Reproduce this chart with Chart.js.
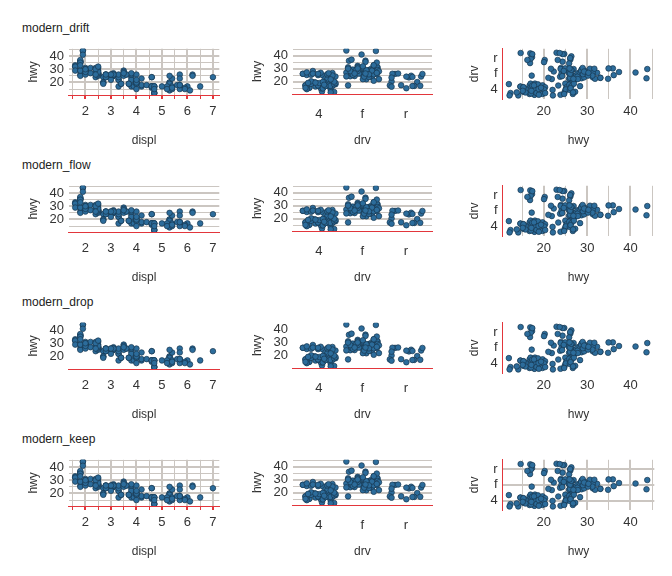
<!DOCTYPE html>
<html>
<head>
<meta charset="UTF-8" />
<script src="https://cdn.jsdelivr.net/npm/chart.js"></script>
<style>
  body { margin: 0; background: #fff; font-family: "Liberation Sans", Arial, sans-serif; }
  .title { position: absolute; font-size: 12px; color: #222; }
  canvas { position: absolute; }
</style>
</head>
<body>
<script>
// mpg subset: displ, drv, hwy
const displ = [1.8,1.8,2.0,2.0,2.8,2.8,3.1,1.8,1.8,2.0,2.0,2.8,2.8,3.1,3.1,2.8,3.1,4.2,
  5.3,5.3,5.3,5.7,6.0,5.7,5.7,6.2,6.2,7.0,5.3,5.3,5.7,6.5,2.4,2.4,3.1,3.5,3.6,
  2.4,3.0,3.3,3.3,3.3,3.8,3.8,3.8,4.0,3.7,3.9,4.7,4.7,5.2,3.9,4.7,5.9,4.7,5.2,5.9,
  4.6,5.4,4.0,4.6,5.0,4.2,4.6,5.4,3.8,4.0,4.6,5.4,4.6,
  1.6,1.6,1.6,1.6,1.8,1.8,1.8,2.0,2.4,2.5,3.3,2.0,2.7,
  3.0,3.7,4.0,4.7,5.7,6.1,4.0,4.2,4.4,4.6,5.4,4.0,4.6,2.5,3.5,3.0,3.5,3.3,4.0,5.6,3.1,3.8,5.3,
  2.5,2.5,2.5,2.5,2.5,2.5,2.2,2.5,2.7,3.4,4.0,4.7,2.2,2.4,3.0,3.5,1.8,1.8,1.8,4.7,5.7,2.7,3.4,4.0,
  2.0,2.8,1.9,2.0,2.5,1.9,1.9,2.0,2.5,1.8,2.0,2.8,3.6,2.4,2.5,1.8,2.0,3.5,2.7,2.4];
const drv = ['f','f','f','f','f','f','f','4','4','4','4','4','4','4','4','4','4','4',
  'r','r','r','r','r','r','r','r','r','r','4','4','4','4','f','f','f','f','f',
  'f','f','f','f','f','f','f','f','f','4','4','4','4','4','4','4','4','4','4','4',
  'r','r','4','4','4','4','4','4','r','r','r','r','r',
  'f','f','f','f','f','f','f','f','f','f','f','f','f',
  '4','4','4','4','4','4','4','4','4','r','r','4','4','f','f','f','f','4','4','4','f','f','f',
  '4','4','4','4','4','4','4','4','4','4','4','4','f','f','f','f','f','f','f','4','4','4','4','4',
  'f','f','f','f','f','f','f','f','f','f','f','f','f','f','f','f','f','f','4','f'];
const hwy = [29,29,31,30,26,26,27,26,25,28,27,25,25,25,25,24,25,23,
  20,15,20,17,17,26,23,26,25,24,19,14,15,17,27,30,26,29,26,
  24,24,22,22,24,24,17,22,21,19,18,17,12,17,17,12,16,12,15,15,
  17,17,19,17,17,17,16,15,26,26,24,23,24,
  33,32,32,29,36,36,29,29,28,27,26,26,24,
  22,19,20,17,18,14,15,18,18,17,16,19,17,31,26,26,25,17,20,18,26,27,25,
  27,26,26,26,25,26,27,27,20,19,20,17,31,31,26,28,35,37,35,15,18,20,19,22,
  29,24,44,29,29,44,41,29,28,29,28,26,26,30,32,33,30,27,19,26];
// fixed jitter offsets (read roughly from the scatter spread)
const jitterA = [-0.31,0.12,0.35,-0.08,0.27,-0.22,0.04,-0.37,0.19,-0.14,0.31,-0.02,0.22,-0.28,0.09,0.38,-0.18,0.15,-0.33,0.01,0.26,-0.11,0.33,-0.25,0.07];
const jitterB = [0.21,-0.34,0.05,0.29,-0.17,0.36,-0.06,0.14,-0.27,0.32,-0.21,0.1,-0.39,0.24,-0.12,0.02,0.37,-0.3,0.17,-0.04,-0.24,0.3,-0.15,0.08,0.34];
const drvLevels = ['4','f','r'];
const hwyTicks = [15,20,25,30,35,40,45];
const displTicks = [1.5,2,2.5,3,3.5,4,4.5,5,5.5,6,6.5,7];
const drvTicks = [1,2,3];
const rowTitles = ['modern_drift','modern_flow','modern_drop','modern_keep'];
// grid flags per row: [col1 x, col1 y, col2 y, col3 x, col3 y]
const gridFlags = [[1,1,1,1,0],[0,1,1,1,0],[0,0,0,0,0],[1,1,1,1,1]];

const GRID = '#cbc6c1', RED = '#e2363b', PT = '#2c6c9b', PTB = '#17364f';
const lvl = d => drvLevels.indexOf(d) + 1;
const jit = (arr, i) => arr[i % arr.length];

function gridCfg(on, major) {
  return { display: !!on, drawTicks: false, color: GRID,
    lineWidth: c => (c.tick && major(c.tick.value)) ? 2 : 1 };
}
function scale(opts) {
  const t = opts.ticks;
  return {
    type: 'linear', min: opts.min, max: opts.max,
    afterBuildTicks: s => { s.ticks = t.map(v => ({ value: v })); },
    ticks: { color: '#333', font: { size: 13 }, autoSkip: false, maxRotation: 0, padding: 5,
      callback: opts.label },
    grid: opts.grid,
    border: opts.border,
    title: { display: true, text: opts.title, color: '#333', font: { size: 12 },
      padding: opts.vertical ? { top: 0, bottom: 4 } : { top: 9, bottom: 0 } }
  };
}
const hwyLabel = v => (v % 10 === 0 && v < 45) ? String(v) : '';
const displLabel = v => Number.isInteger(v) ? String(v) : '';
const drvLabel = v => drvLevels[v - 1] || '';

function panel(row, col) {
  const c = document.createElement('canvas');
  const left = [12, 232, 447][col];
  c.style.left = left + 'px';
  c.style.top = (36 + 137 * row) + 'px';
  c.width = 212; c.height = 112;
  c.style.width = '212px'; c.style.height = '112px';
  document.body.appendChild(c);
  const g = gridFlags[row];
  let data, x, y, padL, padR;
  if (col === 0) {
    padL = 14; padR = 0;
    data = displ.map((d, i) => ({ x: d, y: hwy[i] }));
    x = scale({ min: 1.35, max: 7.25, ticks: displTicks, label: displLabel, title: 'displ',
      grid: Object.assign(gridCfg(g[0], v => Number.isInteger(v)), { drawTicks: true, tickLength: 4, tickColor: RED }),
      border: { display: true, color: RED, width: 1 } });
    y = scale({ min: 10.5, max: 45.5, ticks: hwyTicks, label: hwyLabel, title: 'hwy', vertical: true,
      grid: gridCfg(g[1], v => v % 10 === 0), border: { display: false } });
  } else if (col === 1) {
    padL = 18; padR = 12;
    data = drv.map((d, i) => ({ x: lvl(d) + jit(jitterA, i), y: hwy[i] + jit(jitterB, i) }));
    x = scale({ min: 0.4, max: 3.6, ticks: drvTicks, label: drvLabel, title: 'drv',
      grid: { display: false }, border: { display: true, color: RED, width: 1 } });
    y = scale({ min: 10.5, max: 45.5, ticks: hwyTicks, label: hwyLabel, title: 'hwy', vertical: true,
      grid: gridCfg(g[2], v => v % 10 === 0), border: { display: false } });
  } else {
    padL = 20; padR = 2;
    data = drv.map((d, i) => ({ x: hwy[i] + jit(jitterB, i + 7), y: lvl(d) + jit(jitterA, i + 3) }));
    x = scale({ min: 10.5, max: 45.5, ticks: hwyTicks, label: hwyLabel, title: 'hwy',
      grid: gridCfg(g[3], v => v % 10 === 0), border: { display: false } });
    y = scale({ min: 0.4, max: 3.6, ticks: drvTicks, label: drvLabel, title: 'drv', vertical: true,
      grid: gridCfg(g[4], () => true), border: { display: true, color: RED, width: 1 } });
  }
  new Chart(c, {
    type: 'scatter',
    data: { datasets: [{ data, backgroundColor: PT, borderColor: PTB, borderWidth: 0.7, pointRadius: 2.8 }] },
    options: {
      responsive: false, animation: false,
      layout: { padding: { left: padL, right: padR, top: 4, bottom: 0 } },
      plugins: { legend: { display: false }, tooltip: { enabled: false } },
      scales: { x, y }
    }
  });
}

rowTitles.forEach((t, r) => {
  const d = document.createElement('div');
  d.className = 'title';
  d.style.left = '22px';
  d.style.top = (21 + 137 * r) + 'px';
  d.textContent = t;
  document.body.appendChild(d);
  for (let c = 0; c < 3; c++) panel(r, c);
});
</script>
</body>
</html>
